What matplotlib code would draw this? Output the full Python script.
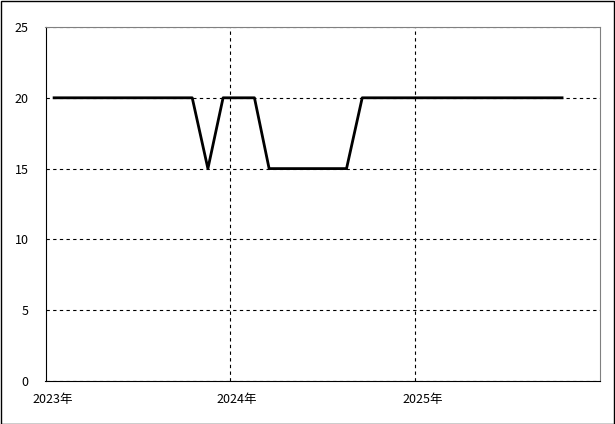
import datetime as dt
import matplotlib
matplotlib.use("Agg")
import matplotlib.pyplot as plt
import matplotlib.transforms as mtransforms
from matplotlib.patches import Rectangle

plt.rcParams['font.family'] = ['Noto Sans CJK JP', 'DejaVu Sans']

# 月ごとの値 (2023年1月 〜 2025年10月)
months = [(2023, m) for m in range(1, 13)] + [(2024, m) for m in range(1, 13)] + [(2025, m) for m in range(1, 11)]
values = [20] * 10 + [15, 20] + [20, 20] + [15] * 6 + [20] * 14
yearTicks = [2023, 2024, 2025]
yearLabels = ["2023年", "2024年", "2025年"]
yTicks = [0, 5, 10, 15, 20, 25]


def main():
    fig = plt.figure(figsize=(6.15, 4.24), dpi=100)
    ax = fig.add_axes([45.5 / 615, 43 / 424, 554.5 / 615, 354 / 424])

    dates = [dt.date(y, m, 18) for y, m in months]
    ax.plot(dates, values, color="black", linewidth=2, zorder=3)

    ax.set_xlim(dt.date(2023, 1, 1), dt.date(2026, 1, 1))
    ax.set_ylim(0, 25)
    ax.set_yticks(yTicks)
    ax.set_xticks([dt.date(y, 1, 1) for y in yearTicks])
    ax.set_xticklabels(yearLabels)
    ax.tick_params(length=0, labelsize=9)
    ax.tick_params(axis="y", pad=12)
    ax.tick_params(axis="x", pad=9)
    offset = mtransforms.ScaledTranslation(7 / 100, 0, fig.dpi_scale_trans)
    for lbl in ax.get_xticklabels():
        lbl.set_transform(lbl.get_transform() + offset)

    ax.grid(True, color="black", linestyle=(0, (3, 3)), linewidth=0.8)
    ax.spines["left"].set_color("black")
    ax.spines["bottom"].set_color("black")
    ax.spines["top"].set_color("#808080")
    ax.spines["right"].set_color("#808080")

    fig.patches.append(Rectangle((0.5 / 615, 0.5 / 424), 613.5 / 615, 422.5 / 424,
                                 transform=fig.transFigure, fill=False,
                                 edgecolor="black", linewidth=1))
    fig.savefig("out.png", dpi=100)


if __name__ == "__main__":
    main()
